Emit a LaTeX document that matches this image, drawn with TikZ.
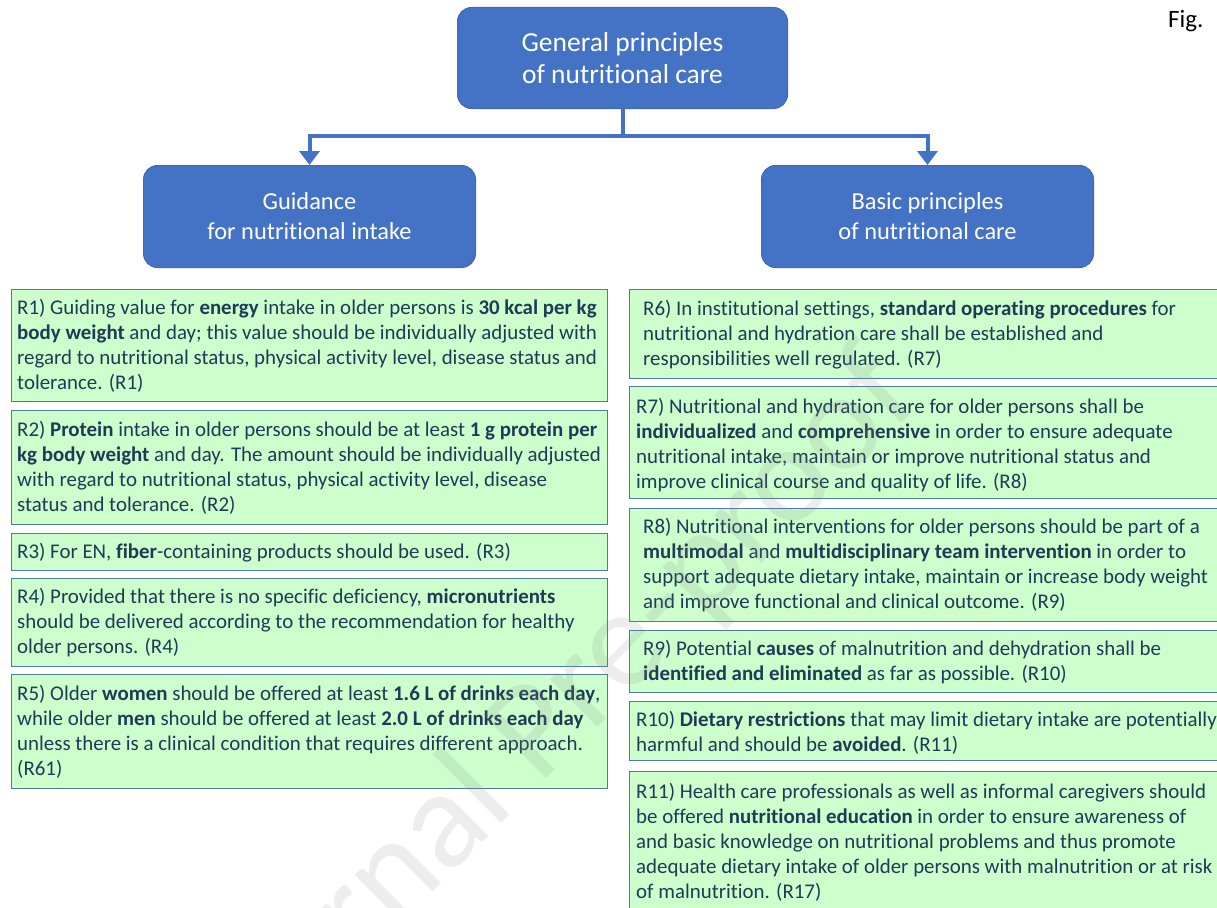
\documentclass[tikz,border=0pt]{standalone}
\usepackage{fontspec}
\setmainfont[Ligatures=NoCommon]{Carlito}
\usetikzlibrary{arrows.meta}
\definecolor{hdrblue}{HTML}{4472C4}
\definecolor{hdredge}{HTML}{3F68B5}
\definecolor{notefill}{HTML}{CCFFCC}
\definecolor{noteedge}{HTML}{4F7BA0}
\definecolor{notetext}{HTML}{1F3A56}
\begin{document}
\begin{tikzpicture}[x=1pt,y=-1pt,
  hdr/.style={draw=hdredge, fill=hdrblue, rounded corners=14pt, line width=1pt,
    text=white, align=center, anchor=north west, inner sep=0pt},
  note/.style={draw=noteedge, fill=notefill, line width=1.3pt, anchor=north west, inner sep=0pt},
  notetxt/.style={anchor=west, align=left, inner sep=0pt, text=notetext,
    font=\fontsize{20.9}{25}\selectfont},
  conn/.style={draw=hdrblue, line width=4pt, -{Triangle[width=20pt,length=14pt]}}]
\useasboundingbox (0,0) rectangle (1217,907);

% header boxes
\node[hdr, minimum width=330pt, minimum height=101pt, font=\fontsize{27.5}{32}\selectfont]
  (gen) at (457,7) {General principles\\of nutritional care};
\node[hdr, minimum width=332pt, minimum height=102pt, font=\fontsize{24.4}{30}\selectfont]
  (guid) at (143,165) {Guidance\\for nutritional intake};
\node[hdr, minimum width=332pt, minimum height=102pt, font=\fontsize{24.4}{30}\selectfont]
  (basic) at (761,165) {Basic principles\\of nutritional care};

\draw[conn] (gen.south) -- ++(0,27) -| (guid.north);
\draw[conn] (gen.south) -- ++(0,27) -| (basic.north);

\node[anchor=base west, inner sep=0pt, font=\fontsize{25}{25}\selectfont] (fig) at (1168,28) {Fig.};

% left column: guidance for intake
\node[note, minimum width=596pt, minimum height=112pt] (r1) at (11,289) {};
\node[notetxt, xshift=6pt] (t1) at (r1.west) {R1) Guiding value for \textbf{energy} intake in older persons is \textbf{30 kcal per kg}\\
\textbf{body weight} and day; this value should be individually adjusted with\\
regard to nutritional status, physical activity level, disease status and\\
tolerance. (R1)};

\node[note, minimum width=596pt, minimum height=114pt] (r2) at (11,410) {};
\node[notetxt, xshift=6pt] (t2) at (r2.west) {R2) \textbf{Protein} intake in older persons should be at least \textbf{1 g protein per}\\
\textbf{kg body weight} and day. The amount should be individually adjusted\\
with regard to nutritional status, physical activity level, disease\\
status and tolerance. (R2)};

\node[note, minimum width=596pt, minimum height=37pt] (r3) at (11,533) {};
\node[notetxt, xshift=6pt] (t3) at (r3.west) {R3) For EN, \textbf{fiber}-containing products should be used. (R3)};

\node[note, minimum width=596pt, minimum height=88pt] (r4) at (11,578) {};
\node[notetxt, xshift=6pt] (t4) at (r4.west) {R4) Provided that there is no specific deficiency, \textbf{micronutrients}\\
should be delivered according to the recommendation for healthy\\
older persons. (R4)};

\node[note, minimum width=596pt, minimum height=114pt] (r5) at (11,674) {};
\node[notetxt, xshift=6pt] (t5) at (r5.west) {R5) Older \textbf{women} should be offered at least \textbf{1.6 L of drinks each day},\\
while older \textbf{men} should be offered at least \textbf{2.0 L of drinks each day}\\
unless there is a clinical condition that requires different approach.\\
(R61)};

% right column: basic principles
\node[note, minimum width=620pt, minimum height=89pt] (r6) at (629,289) {};
\node[notetxt, xshift=14pt] (t6) at (r6.west) {R6) In institutional settings, \textbf{standard operating procedures} for\\
nutritional and hydration care shall be established and\\
responsibilities well regulated. (R7)};

\node[note, minimum width=620pt, minimum height=112pt] (r7) at (629,386) {};
\node[notetxt, xshift=7pt, yshift=-2pt] (t7) at (r7.west) {R7) Nutritional and hydration care for older persons shall be\\
\textbf{individualized} and \textbf{comprehensive} in order to ensure adequate\\
nutritional intake, maintain or improve nutritional status and\\
improve clinical course and quality of life. (R8)};

\node[note, minimum width=620pt, minimum height=113pt] (r8) at (629,508) {};
\node[notetxt, xshift=14pt] (t8) at (r8.west) {R8) Nutritional interventions for older persons should be part of a\\
\textbf{multimodal} and \textbf{multidisciplinary team intervention} in order to\\
support adequate dietary intake, maintain or increase body weight\\
and improve functional and clinical outcome. (R9)};

\node[note, minimum width=620pt, minimum height=62pt] (r9) at (629,630) {};
\node[notetxt, xshift=14pt] (t9) at (r9.west) {R9) Potential \textbf{causes} of malnutrition and dehydration shall be\\
\textbf{identified and eliminated} as far as possible. (R10)};

\node[note, minimum width=620pt, minimum height=59pt] (r10) at (629,701) {};
\node[notetxt, xshift=7pt, yshift=-2pt] (t10) at (r10.west) {R10) \textbf{Dietary restrictions} that may limit dietary intake are potentially\\
harmful and should be \textbf{avoided}. (R11)};

\node[note, minimum width=620pt, minimum height=150pt] (r11) at (629,771) {};
\node[notetxt, xshift=7pt, yshift=4.5pt] (t11) at (r11.west) {R11) Health care professionals as well as informal caregivers should\\
be offered \textbf{nutritional education} in order to ensure awareness of\\
and basic knowledge on nutritional problems and thus promote\\
adequate dietary intake of older persons with malnutrition or at risk\\
of malnutrition. (R17)};

% faint diagonal watermark
\node[rotate=45, anchor=base west, inner sep=0pt, font=\fontsize{140}{140}\selectfont,
  text=black!45, opacity=0.16] (wm) at (225,1100) {Journal Pre-proof};
\end{tikzpicture}
\end{document}
